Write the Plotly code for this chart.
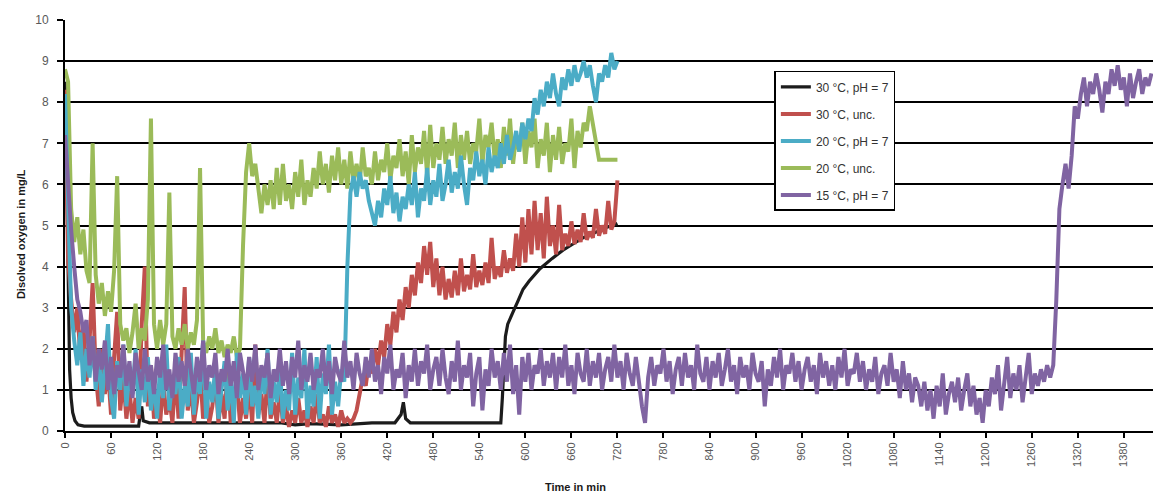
import plotly.graph_objects as go

# ---------------- data ----------------
step_min = 4  # sampling interval of the noisy series, minutes

# 30 °C, pH = 7 (smooth curve, explicit points)
t_black = [0, 2, 4, 6, 8, 10, 13, 17, 25, 50, 75, 96, 98, 100, 102, 110, 200, 280, 300, 320,
           360, 400, 430, 438, 441, 444, 450, 500, 540, 568, 570, 572, 574, 577, 580, 584, 590,
           597, 605, 619, 635, 649, 662, 675, 690, 705, 714, 720]
v_black = [8.5, 7.0, 4.0, 1.5, 0.8, 0.45, 0.25, 0.15, 0.12, 0.12, 0.12, 0.12, 0.4, 0.6, 0.25, 0.2,
           0.2, 0.2, 0.15, 0.18, 0.15, 0.2, 0.2, 0.4, 0.7, 0.3, 0.2, 0.2, 0.2, 0.2, 0.8, 1.8, 2.3,
           2.6, 2.75, 2.9, 3.15, 3.45, 3.65, 3.95, 4.2, 4.4, 4.55, 4.7, 4.82, 4.95, 5.0, 5.05]

# 30 °C, unc.  (t = 0, 4, ..., 720)
v_red = [
    8.3, 4.2, 3.2, 2.4, 3.0, 1.8, 2.6, 1.2, 2.2, 3.6,
    1.4, 0.6, 2.0, 0.9, 1.5, 0.4, 1.8, 2.9, 0.5, 1.3,
    0.3, 1.0, 0.2, 0.8, 0.3, 2.6, 4.0, 0.6, 1.6, 0.3,
    0.9, 0.2, 1.2, 0.4, 0.8, 0.2, 1.4, 0.3, 1.9, 3.5,
    0.5, 1.1, 0.2, 0.7, 1.5, 0.3, 1.0, 0.2, 0.6, 1.3,
    0.2, 0.9, 0.3, 1.6, 0.2, 0.7, 1.2, 0.2, 0.8, 0.3,
    1.1, 0.2, 2.1, 0.4, 0.9, 0.2, 1.4, 0.3, 0.7, 0.2,
    1.0, 0.2, 0.6, 0.1, 0.5, 0.2, 0.8, 0.2, 0.5, 0.1,
    0.6, 0.2, 0.9, 0.2, 0.4, 0.1, 0.6, 0.2, 0.4, 0.1,
    0.5, 0.2, 0.3, 0.2, 0.3, 0.5, 0.9, 1.3, 1.1, 1.7,
    1.4, 2.0, 1.6, 2.2, 1.8, 2.6, 2.1, 2.9, 2.4, 3.2,
    2.7, 3.5, 3.0, 3.8, 3.3, 4.1, 3.6, 4.5, 3.8, 4.6,
    3.5, 4.2, 3.3, 4.0, 3.2, 3.7, 3.25, 3.9, 3.3, 4.2,
    3.4, 3.8, 3.45, 4.3, 3.5, 3.9, 3.55, 4.1, 3.6, 4.7,
    3.7, 4.0, 3.75, 4.4, 3.85, 4.2, 3.9, 4.8, 4.0, 5.2,
    4.1, 5.4, 4.3, 5.6, 4.4, 5.3, 4.2, 5.7, 4.5, 5.0,
    4.3, 5.5, 4.4, 4.8, 4.5, 5.1, 4.55, 4.9, 4.6, 5.3,
    4.65, 4.85, 4.7, 5.4, 4.75, 5.0, 4.8, 5.6, 4.9, 5.1,
    6.1]

# 20 °C, pH = 7  (t = 0, 4, ..., 720)
v_cyan = [
    8.2, 5.5, 3.0, 2.2, 1.6, 2.4, 1.1, 2.0, 1.3, 2.3,
    1.0, 1.9, 0.7, 1.6, 2.6, 0.8, 0.3, 1.7, 1.0, 2.1,
    0.6, 1.4, 0.9, 2.0, 0.4, 1.5, 0.7, 1.8, 0.5, 1.2,
    0.3, 1.6, 0.8, 2.1, 0.5, 1.3, 0.9, 1.8, 0.3, 1.1,
    0.6, 1.9, 0.4, 1.4, 0.9, 2.2, 0.3, 1.2, 0.7, 1.6,
    0.3, 1.0, 1.7, 0.5, 1.3, 0.2, 1.9, 0.8, 1.4, 0.4,
    1.8, 0.6, 1.1, 0.3, 1.5, 0.9, 2.0, 0.4, 1.2, 0.7,
    1.6, 0.3, 1.0, 0.5, 1.9, 0.4, 1.3, 0.8, 2.0, 0.3,
    1.1, 0.6, 1.8, 0.3, 1.4, 0.9, 2.1, 0.4, 1.2, 0.6,
    1.5, 1.2, 4.0, 5.8, 6.2, 5.7, 6.3, 5.9, 6.1, 5.6,
    5.3, 5.0, 5.6, 5.2, 5.9, 5.5, 6.2, 5.3, 5.8, 5.1,
    5.7, 5.4, 6.0, 5.5, 6.3, 5.2, 5.9, 5.6, 6.4, 5.5,
    6.1, 5.7, 6.5, 5.6, 6.0, 6.6, 5.8, 6.3, 5.9, 6.7,
    6.0, 5.5, 6.4, 6.1, 6.8, 6.2, 6.6, 6.0, 6.9, 6.3,
    6.7, 6.4, 7.0, 6.5, 7.2, 6.6, 6.9, 7.3, 6.8, 7.5,
    7.1, 7.6, 7.3, 8.1, 7.7, 8.3, 7.9, 8.5, 8.1, 8.7,
    8.2, 7.9, 8.6, 8.3, 8.8, 8.4, 8.9, 8.5, 8.7, 9.0,
    8.6, 8.9, 8.4, 8.0, 8.7, 8.5, 8.9, 8.6, 9.2, 8.8,
    9.0]

# 20 °C, unc.  (t = 0, 4, ..., 720)
v_green = [
    8.8, 8.5, 5.4, 4.6, 5.2, 4.3, 4.9, 3.9, 3.6, 7.0,
    3.8, 3.1, 3.6, 2.8, 3.4, 2.9, 3.9, 6.2, 2.6, 2.2,
    2.5, 1.9, 2.4, 3.1, 2.0, 2.5, 2.2, 3.2, 7.6, 2.6,
    2.0, 2.7, 2.1, 2.6, 5.8, 2.3, 2.0, 2.5, 2.1, 2.6,
    2.0, 2.4, 2.1, 2.7, 6.4, 2.2, 1.9, 2.3, 2.0, 2.5,
    1.9, 2.2, 1.8, 2.1, 1.9, 2.3, 1.8, 2.0, 4.5, 6.3,
    7.0, 6.2, 6.5, 5.8, 5.3, 6.0, 5.5, 6.1, 5.4, 6.4,
    5.5, 6.5, 5.6, 6.0, 5.4, 6.3, 5.7, 6.6, 5.5, 6.1,
    5.7, 6.4, 5.9, 6.8, 6.0, 6.5, 5.8, 6.7, 6.1, 6.9,
    6.0, 6.6, 5.9, 6.8, 6.1, 6.5, 6.0, 6.9, 6.2, 6.4,
    6.0, 6.8, 6.1, 6.6, 6.3, 7.0, 6.1, 6.7, 6.4, 7.1,
    6.2, 6.8, 6.0, 7.2, 6.3, 6.9, 6.5, 7.3, 6.2, 7.45,
    6.4, 7.0, 6.6, 7.4, 6.5, 7.1, 6.7, 7.5, 6.4, 7.2,
    6.6, 7.3, 6.5, 7.0, 6.8, 7.6, 6.5, 7.2, 6.9, 7.5,
    6.6, 7.1, 6.4, 7.4, 6.7, 7.6, 6.5, 7.2, 6.8, 7.5,
    6.5, 7.3, 6.9, 7.6, 6.4, 7.1, 6.7, 7.5, 6.3, 7.2,
    6.6, 7.4, 6.5, 7.0, 6.8, 7.6, 6.4, 7.3, 6.9, 7.5,
    7.3, 7.9, 7.5, 7.0, 6.6, 6.6, 6.6, 6.6, 6.6, 6.6,
    6.6]

# 15 °C, pH = 7  (t = 0, 4, ..., 1416)
v_purple = [
    7.2, 6.0, 4.9, 4.0, 3.2, 2.9, 2.4, 2.7, 1.6, 2.3,
    1.2, 2.0, 1.5, 2.2, 1.0, 1.8, 0.9, 1.6, 1.3, 2.1,
    1.1, 1.7, 0.8, 1.9, 1.4, 1.0, 2.0, 1.2, 1.6, 0.9,
    1.8, 1.3, 2.1, 1.0, 1.5, 0.8, 1.9, 1.2, 1.7, 1.1,
    2.0, 1.4, 0.9, 1.8, 1.2, 2.2, 1.0, 1.6, 1.3, 1.9,
    0.9, 1.5, 1.2, 2.0, 1.1, 1.7, 0.8, 1.9, 1.4, 1.0,
    1.8, 1.2, 2.1, 1.0, 1.6, 1.3, 1.9, 0.8, 1.5, 1.2,
    2.0, 1.1, 1.7, 0.9, 1.8, 1.3, 2.2, 1.0, 1.6, 1.2,
    1.9, 1.0, 1.5, 1.3, 2.0, 1.1, 1.7, 0.9, 1.8, 1.4,
    1.2, 2.2, 1.3, 1.7, 1.0, 1.9, 1.4, 1.1, 1.8, 1.3,
    2.0, 1.2, 1.6, 0.9, 1.8, 1.4, 2.1, 1.0, 1.5, 1.3,
    1.9, 0.8, 1.6, 1.2, 2.0, 1.1, 1.7, 1.4, 2.1, 1.0,
    1.5, 1.8, 1.1, 2.0, 1.3, 0.9, 1.7, 1.2, 2.2, 1.0,
    1.6, 1.3, 1.9, 0.6, 1.4, 1.8, 0.5, 1.5, 1.1, 2.0,
    1.3, 1.7, 1.0, 1.9, 1.2, 2.1, 0.9, 1.6, 0.4, 1.8,
    1.2, 1.9, 1.0, 1.6, 1.4, 2.0, 1.1, 1.7, 1.3, 1.9,
    1.0, 1.8, 1.3, 2.1, 1.1, 1.6, 0.9, 1.9, 1.4, 1.2,
    2.0, 1.1, 1.7, 1.3, 1.9, 1.0, 1.5, 1.8, 1.2, 2.1,
    1.3, 1.7, 1.0, 1.9, 1.4, 1.1, 1.8, 1.2, 0.6, 0.2,
    1.3, 1.8, 1.1, 1.6, 1.4, 2.0, 1.2, 1.7, 0.9, 1.5,
    1.8, 1.1, 1.9, 1.3, 1.6, 1.0, 2.1, 1.4, 1.2, 1.8,
    1.0, 1.7, 1.3, 1.9, 1.1, 1.5, 2.0, 1.2, 1.6, 0.9,
    1.8, 1.3, 1.6, 1.0, 1.9, 1.4, 1.2, 1.7, 0.6, 1.5,
    1.1, 1.8, 1.3, 2.0, 1.0, 1.6, 1.4, 1.9, 1.2, 1.7,
    1.0, 1.5, 1.8, 1.2, 1.6, 0.9, 1.9, 1.3, 1.7, 1.1,
    1.6, 1.0, 1.8, 1.3, 2.0, 1.1, 1.5, 1.4, 1.9, 1.2,
    1.7, 1.0, 1.5, 1.2, 1.8, 0.9, 1.4, 1.6, 1.1, 1.9,
    1.2, 1.5, 0.8, 1.7, 1.0, 1.4, 0.7, 1.3, 1.1, 0.6,
    1.2, 0.5, 1.0, 0.3, 1.1, 0.6, 1.4, 0.4, 0.9, 1.2,
    0.7, 1.3, 0.5, 1.0, 1.4, 0.6, 1.1, 0.4, 0.8, 0.2,
    1.0, 0.6, 1.3, 0.9, 1.6, 0.5, 1.2, 1.8, 0.8, 1.4,
    1.0, 1.6, 0.7, 1.3, 1.9, 0.9, 1.4, 1.1, 1.5, 1.2,
    1.6, 1.3, 1.6, 3.2, 5.4, 6.0, 6.5, 5.9, 6.7, 7.9,
    7.6, 8.2, 8.6, 7.9, 8.5, 8.2, 8.7, 8.3, 7.75, 8.5,
    8.2, 8.8, 8.4, 8.9, 8.3, 8.6, 7.9, 8.7, 8.1, 8.5,
    8.8, 8.2, 8.6, 8.4, 8.7]

series_names = ["30 °C, pH = 7", "30 °C, unc.", "20 °C, pH = 7", "20 °C, unc.", "15 °C, pH = 7"]
series_colors = ["#1c1c1c", "#c0504d", "#4bacc6", "#9bbb59", "#8064a2"]
x_tick_vals = list(range(0, 1381, 60))
y_tick_vals = list(range(0, 11, 1))

t_red = [i * step_min for i in range(len(v_red))]
t_cyan = [i * step_min for i in range(len(v_cyan))]
t_green = [i * step_min for i in range(len(v_green))]
t_purple = [i * step_min for i in range(len(v_purple))]

# ---------------- figure ----------------
fig = go.Figure()
traces = [
    (t_black, v_black, 0),
    (t_red, v_red, 1),
    (t_green, v_green, 3),
    (t_cyan, v_cyan, 2),
    (t_purple, v_purple, 4),
]
for tx, vy, k in traces:
    fig.add_trace(go.Scatter(
        x=tx, y=vy, mode="lines", name=series_names[k],
        line=dict(color=series_colors[k], width=4 if k else 3.2),
        legendgroup="g%d" % k, legendrank=k + 1,
    ))

tick_font = dict(family="Liberation Sans, Arial, sans-serif", size=11, color="#595959")
fig.update_layout(
    width=1153, height=493,
    margin=dict(l=65, r=0, t=20, b=62),
    paper_bgcolor="white", plot_bgcolor="white",
    showlegend=True,
    legend=dict(
        x=0.652, y=0.876, xanchor="left", yanchor="top",
        bgcolor="white", bordercolor="#000000", borderwidth=1.5,
        font=dict(family="Liberation Sans, Arial, sans-serif", size=12, color="#333333"),
        traceorder="grouped", tracegroupgap=8,
    ),
    xaxis=dict(
        range=[0, 1418], tickmode="array", tickvals=x_tick_vals,
        ticktext=[str(v) for v in x_tick_vals], tickangle=-90,
        ticks="outside", ticklen=5, tickwidth=2, tickcolor="black",
        showgrid=False, zeroline=False,
        showline=True, linecolor="black", linewidth=2,
        tickfont=tick_font,
    ),
    yaxis=dict(
        range=[0, 10], tickmode="array", tickvals=y_tick_vals,
        ticks="outside", ticklen=6, tickwidth=2, tickcolor="black",
        showgrid=True, gridcolor="black", gridwidth=2,
        zeroline=False, showline=True, linecolor="black", linewidth=2,
        tickfont=dict(family="Liberation Sans, Arial, sans-serif", size=12, color="#595959"),
        ticklabelstandoff=6,
    ),
    annotations=[
        dict(text="<b>Time in min</b>", xref="paper", yref="paper", x=0.469, y=-0.136,
             xanchor="center", yanchor="middle", showarrow=False,
             font=dict(family="Liberation Sans, Arial, sans-serif", size=11, color="#1a1a1a")),
        dict(text="<b>Disolved oxygen in mg/L</b>", xref="paper", yref="paper", x=-0.041, y=0.48,
             xanchor="center", yanchor="middle", textangle=-90, showarrow=False,
             font=dict(family="Liberation Sans, Arial, sans-serif", size=11, color="#1a1a1a")),
    ],
)

fig.write_html("out.html")
